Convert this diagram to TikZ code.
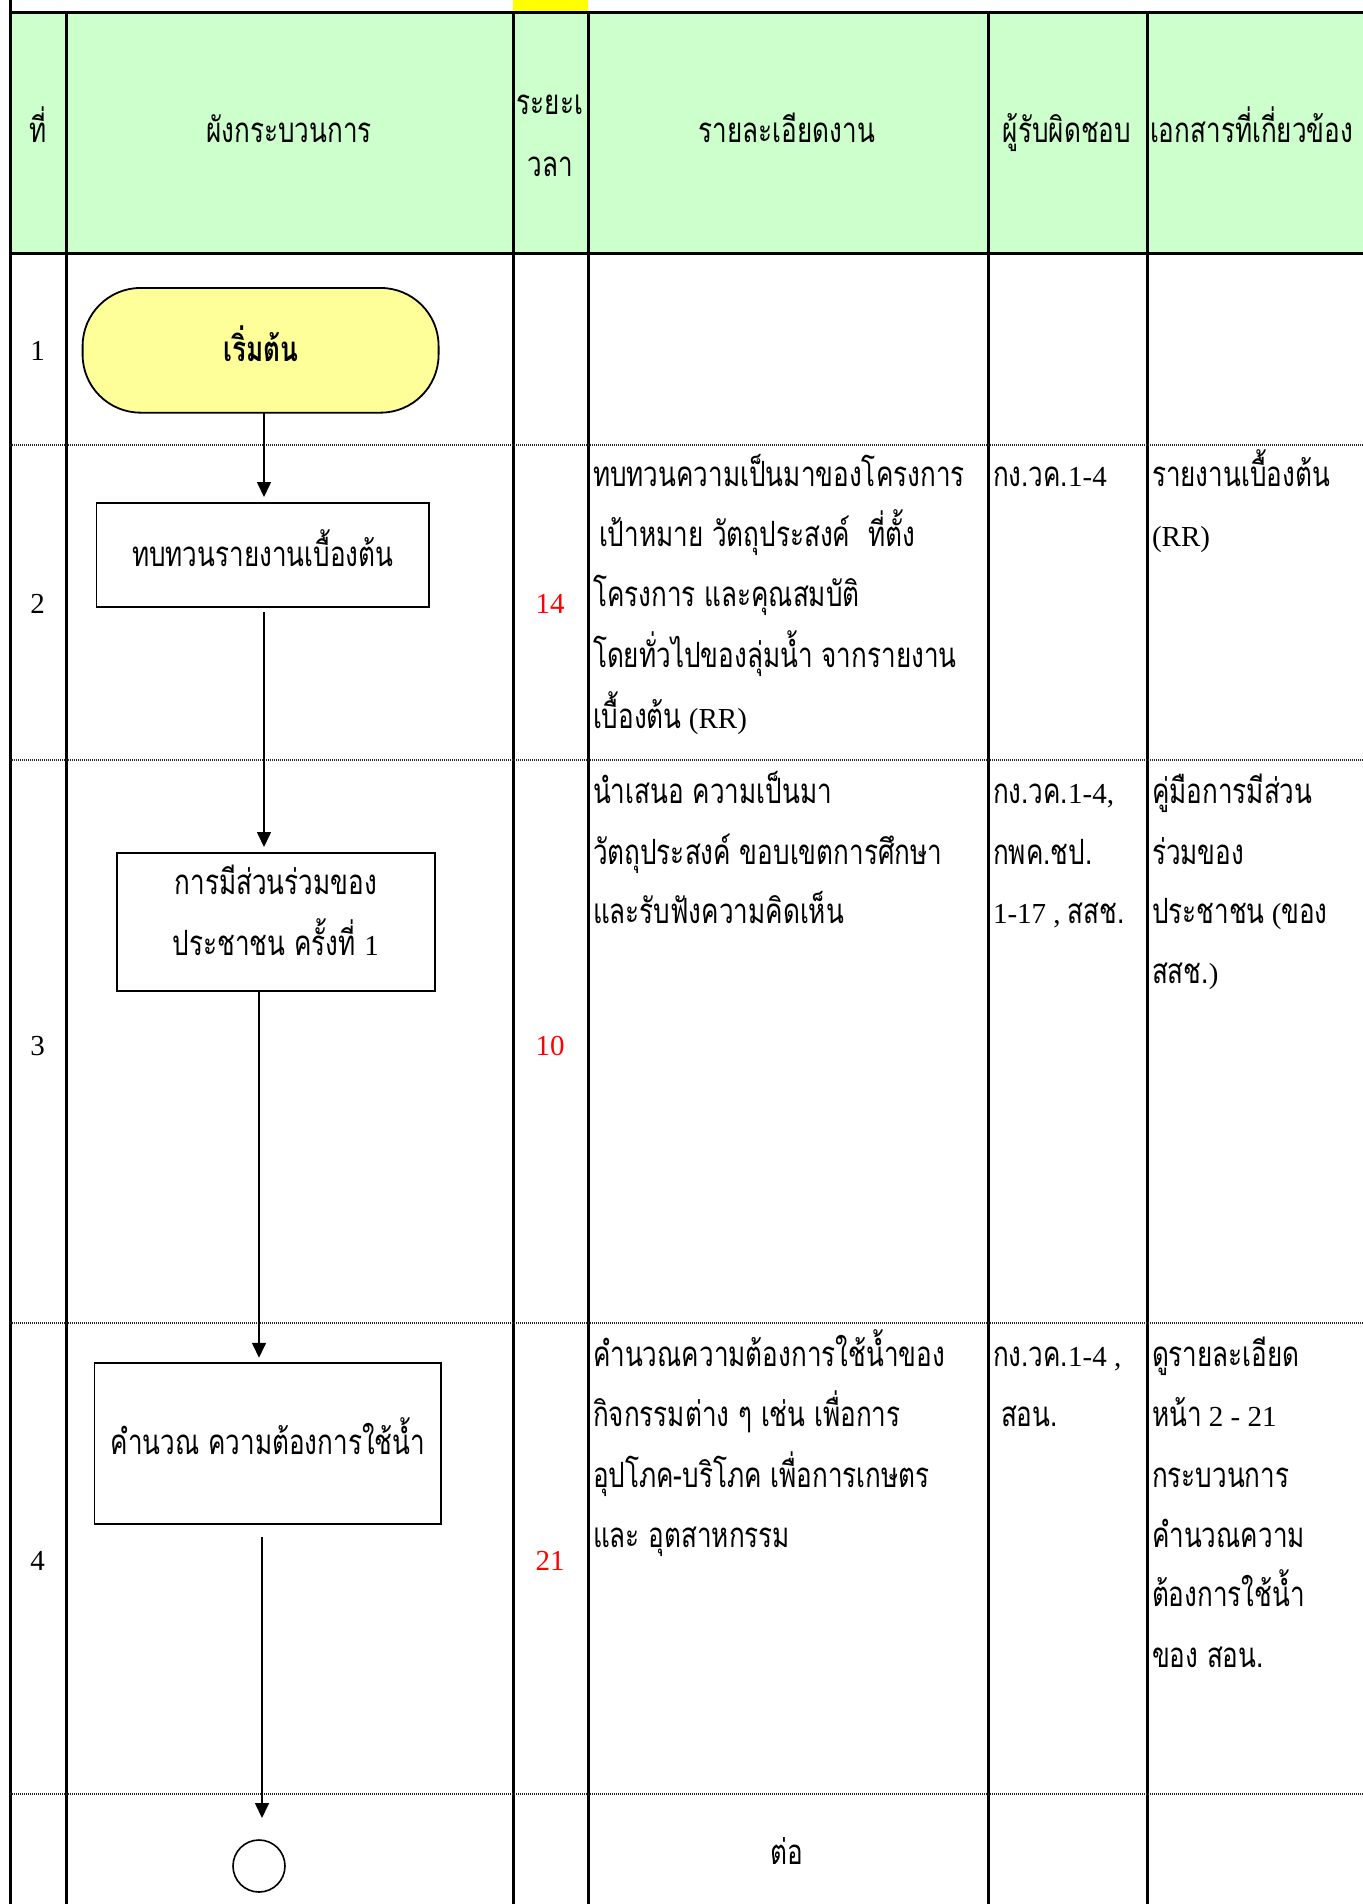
\documentclass[tikz,border=0pt]{standalone}
\usepackage{fontspec}
\setmainfont{Liberation Serif}
\newfontfamily\thai[Script=Thai,Scale=1.2,FakeStretch=0.75]{Loma}
\usetikzlibrary{arrows.meta,calc}
\definecolor{hdrgreen}{HTML}{CCFFCC}
\definecolor{termyellow}{HTML}{FFFF99}
\definecolor{topyellow}{HTML}{FFFF00}
\newcommand{\tf}{\fontsize{29}{61}\selectfont}
\newcommand{\thx}[1]{{\thai #1}}
\begin{document}
\begin{tikzpicture}[x=1pt,y=-1pt,
  every node/.style={inner sep=0pt,outer sep=0pt},
  grid/.style={line width=3pt},
  rowsep/.style={line width=1.3pt,dash pattern=on 1pt off 1pt,draw=black!85},
  procbox/.style={draw,line width=1.8pt,fill=white,align=center,font=\tf\thai,text height=25pt,text depth=2pt},
  term/.style={draw,line width=1.8pt,fill=termyellow,rounded corners=58pt,font=\tf\thai\bfseries,text height=25pt,text depth=2pt},
  endcirc/.style={circle,draw,line width=1.6pt,minimum size=52pt},
  arr/.style={line width=1.6pt,-{Triangle[length=15pt,width=14pt]}},
  cell/.style={anchor=base west,font=\tf},
  mid/.style={anchor=base,font=\tf},
  tnum/.style={anchor=base,font=\tf,text=red}]
\useasboundingbox (0,0) rectangle (1363,1904);
% header background
\fill[hdrgreen] (10,12) rectangle (1363,253);
\fill[topyellow] (513,0) rectangle (588,10.5);
% grid
\draw[grid] (10,12) -- (1363,12);
\draw[grid] (10,253) -- (1363,253);
\draw[grid] (10,0) -- (10,1904);
\foreach \xx in {66,513,588,988,1147} {\draw[grid] (\xx,12) -- (\xx,1904);}
\foreach \yy in {445,760,1323,1794} {\draw[rowsep] (10,\yy) -- (1363,\yy);}
% header texts
\node[mid] (h1) at (37.7,142) {\thx{ที่}};
\node[mid] (h2) at (289,142) {\thx{ผังกระบวนการ}};
\node[mid] (h3a) at (550,114) {\thx{ระยะเ}};
\node[mid] (h3b) at (550,176) {\thx{วลา}};
\node[mid] (h4) at (787,142) {\thx{รายละเอียดงาน}};
\node[mid] (h5) at (1067,142) {\thx{ผู้รับผิดชอบ}};
\node[cell] (h6) at (1150,142) {\thx{เอกสารที่เกี่ยวข้อง}};
% row numbers
\node[mid] (n1) at (37.7,360) {1};
\node[mid] (n2) at (37.7,613) {2};
\node[mid] (n3) at (37.7,1055) {3};
\node[mid] (n4) at (37.7,1570) {4};
% durations
\node[tnum] (d2) at (550,613) {14};
\node[tnum] (d3) at (550,1055) {10};
\node[tnum] (d4) at (550,1570) {21};
% flow shapes
\node[term,minimum width=356pt,minimum height=124.7pt] (start) at (260.6,350.3) {เริ่มต้น};
\node[procbox,minimum width=332.6pt,minimum height=104pt] (b2) at (262.7,555) {ทบทวนรายงานเบื้องต้น};
\node[procbox,minimum width=318.4pt,minimum height=138pt,text height=87pt,text depth=20pt] (b3) at (275.8,922) {การมีส่วนร่วมของ\\ประชาชน ครั้งที่ {\rmfamily 1}};
\node[procbox,minimum width=346.8pt,minimum height=161.3pt] (b4) at (267.9,1443.4) {คำนวณ ความต้องการใช้น้ำ};
\node[endcirc] (endc) at (259,1866) {};
% connectors
\coordinate (xa) at (264,0);
\coordinate (xb) at (259,0);
\coordinate (xc) at (262,0);
\draw[arr,shorten >=6pt] (start.south -| xa) -- (b2.north -| xa);
\draw[arr,shorten <=5pt,shorten >=6pt] (b2.south -| xa) -- (b3.north -| xa);
\draw[arr,shorten >=5pt] (b3.south -| xb) -- (b4.north -| xb);
\draw[arr,shorten <=13pt,shorten >=22pt] (b4.south -| xc) -- (endc.north -| xc);
% row 2
\node[cell] (r2a) at (593,486) {\thx{ทบทวนความเป็นมาของโครงการ}};
\node[cell] (r2b) at (599,546) {\thx{เป้าหมาย วัตถุประสงค์\ \ ที่ตั้ง}};
\node[cell] (r2c) at (593,606) {\thx{โครงการ และคุณสมบัติ}};
\node[cell] (r2d) at (593,667) {\thx{โดยทั่วไปของลุ่มน้ำ จากรายงาน}};
\node[cell] (r2e) at (593,728) {\thx{เบื้องต้น} (RR)};
\node[cell] (r2r) at (993,486) {\thx{กง.วค.}1-4};
\node[cell] (r2x) at (1152,486) {\thx{รายงานเบื้องต้น}};
\node[cell] (r2y) at (1152,546) {(RR)};
% row 3
\node[cell] (r3a) at (593,803) {\thx{นำเสนอ ความเป็นมา}};
\node[cell] (r3b) at (593,864) {\thx{วัตถุประสงค์ ขอบเขตการศึกษา}};
\node[cell] (r3c) at (593,923) {\thx{และรับฟังความคิดเห็น}};
\node[cell] (r3r1) at (993,803) {\thx{กง.วค.}1-4,};
\node[cell] (r3r2) at (993,864) {\thx{กพค.ชป.}};
\node[cell] (r3r3) at (993,923) {1-17 , \thx{สสช.}};
\node[cell] (r3x1) at (1152,803) {\thx{คู่มือการมีส่วน}};
\node[cell] (r3x2) at (1152,864) {\thx{ร่วมของ}};
\node[cell] (r3x3) at (1152,923) {\thx{ประชาชน} (\thx{ของ}};
\node[cell] (r3x4) at (1152,983) {\thx{สสช.})};
% row 4
\node[cell] (r4a) at (593,1366) {\thx{คำนวณความต้องการใช้น้ำของ}};
\node[cell] (r4b) at (593,1426) {\thx{กิจกรรมต่าง ๆ เช่น เพื่อการ}};
\node[cell] (r4c) at (593,1487) {\thx{อุปโภค-บริโภค เพื่อการเกษตร}};
\node[cell] (r4d) at (593,1547) {\thx{และ อุตสาหกรรม}};
\node[cell] (r4r1) at (993,1366) {\thx{กง.วค.}1-4 ,};
\node[cell] (r4r2) at (1001,1426) {\thx{สอน.}};
\node[cell] (r4x1) at (1152,1366) {\thx{ดูรายละเอียด}};
\node[cell] (r4x2) at (1152,1426) {\thx{หน้า} 2 - 21};
\node[cell] (r4x3) at (1152,1487) {\thx{กระบวนการ}};
\node[cell] (r4x4) at (1152,1547) {\thx{คำนวณความ}};
\node[cell] (r4x5) at (1152,1606) {\thx{ต้องการใช้น้ำ}};
\node[cell] (r4x6) at (1152,1667) {\thx{ของ สอน.}};
% row 5
\node[mid] (r5) at (787,1864) {\thx{ต่อ}};
\end{tikzpicture}
\end{document}
